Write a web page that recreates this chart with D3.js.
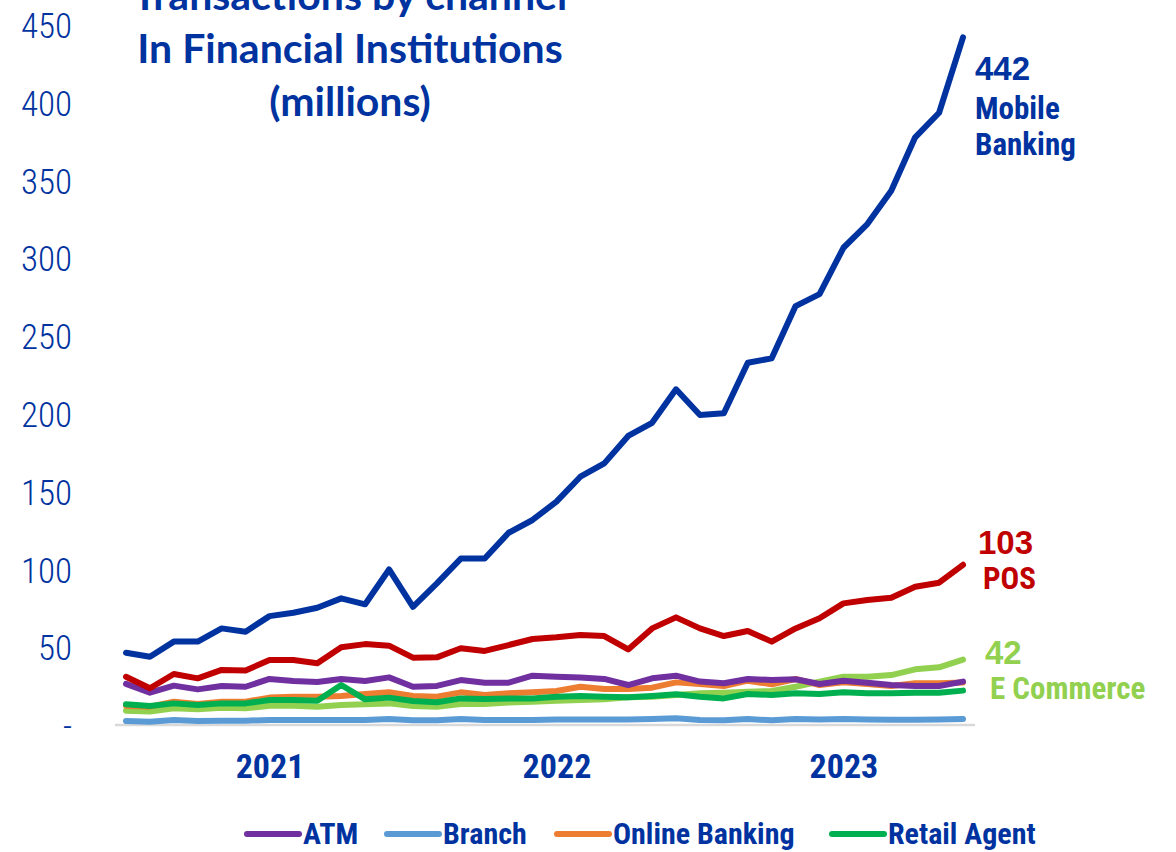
<!DOCTYPE html>
<html>
<head>
<meta charset="utf-8">
<script src="https://cdn.jsdelivr.net/npm/d3@7"></script>
<style>
  body { margin: 0; background: #fff; }
  svg { display: block; }
  .narrow { font-family: 'Liberation Sans Narrow', 'Arial Narrow', 'Roboto Condensed', sans-serif; font-stretch: condensed; }
</style>
</head>
<body>
<div id="container"></div>
<script>
// Data (millions of transactions, monthly Jan 2021 - Dec 2023)
const months = d3.range(36).map(i => {
  const y = 2021 + Math.floor(i / 12);
  const m = (i % 12) + 1;
  return `${y}-${String(m).padStart(2, '0')}`;
});

const mobileBanking = [46.5, 43.9, 53.6, 53.6, 62.1, 60, 70, 72.2, 75.4, 81.4, 77.6, 100,
  76, 91, 107, 107, 123.6, 131.8, 143.6, 159.6, 168.2, 185.8, 194.3, 215.8,
  199.3, 200.4, 232.9, 235.7, 269.3, 277, 306.8, 322, 343.5, 377.8, 393.6, 442];
const pos = [31, 23.6, 32.8, 30, 35.4, 35, 41.8, 41.8, 39.7, 50, 52, 51,
  43.3, 43.5, 49.3, 47.6, 51.4, 55.3, 56.4, 57.9, 57.2, 48.6, 62.1, 69.2,
  62.1, 57.2, 60.4, 53.6, 62.1, 68.6, 78.2, 80.4, 81.8, 88.9, 91.5, 103];
const atm = [26.4, 20.8, 25.3, 22.9, 25.1, 24.6, 29.6, 28.3, 27.6, 29.6, 28.3, 30.6,
  24.6, 25.1, 28.9, 27.2, 27.2, 31.7, 31, 30.6, 29.6, 25.7, 30, 31.7,
  27.9, 26.8, 29.6, 28.9, 29.4, 26.4, 28.5, 27.2, 25.7, 25.1, 25.1, 27.9];
const onlineBanking = [12.4, 11.8, 15, 13.5, 15, 15, 17.6, 18.2, 18.2, 18.6, 19.9, 21,
  18.6, 18.2, 21, 19.3, 20.4, 21, 21.9, 24.6, 23.1, 23.1, 24, 27.4,
  26.4, 25.1, 28.5, 26.2, 29.6, 25.7, 27.4, 26.4, 25.1, 26.8, 26.8, 27.4];
const retailAgent = [13.3, 12.2, 13.9, 12.9, 13.9, 13.9, 16.1, 16.1, 15.6, 25.7, 16.5, 17.6,
  15.4, 14.6, 17.1, 16.7, 17.1, 17.1, 18.2, 18.6, 18.2, 17.8, 18.6, 19.7,
  18.2, 17.1, 19.9, 19.3, 20.4, 19.9, 21, 20.4, 20.4, 20.8, 20.8, 22.1];
const eCommerce = [9.2, 8.6, 10.7, 10.1, 11.1, 10.7, 12.4, 12.4, 11.8, 12.9, 13.3, 13.9,
  12.2, 11.8, 13.5, 13.5, 14.4, 15, 15.6, 16.1, 16.5, 17.8, 18.2, 19.3,
  20.4, 20.8, 21.4, 21.9, 24.6, 27.9, 31, 31, 32.1, 35.8, 37.1, 42];
const branch = [2.6, 2.1, 3.2, 2.6, 2.8, 2.8, 3.2, 3.2, 3.2, 3.2, 3.2, 3.9,
  3, 3, 3.9, 3.2, 3.2, 3.2, 3.6, 3.6, 3.6, 3.6, 3.9, 4.3,
  3.2, 3, 3.9, 3, 3.9, 3.6, 3.9, 3.6, 3.4, 3.4, 3.6, 3.9];

const yTicks = [0, 50, 100, 150, 200, 250, 300, 350, 400, 450];
const yearTicks = ['2021-07', '2022-07', '2023-07'];
const titleLines = ['Transactions by channel', 'In Financial Institutions', '(millions)'];

// drawing order: back to front
const series = [
  { name: 'Branch', values: branch, color: '#5b9bd5' },
  { name: 'E Commerce', values: eCommerce, color: '#92d050' },
  { name: 'Online Banking', values: onlineBanking, color: '#ed7d31' },
  { name: 'Retail Agent', values: retailAgent, color: '#00b050' },
  { name: 'ATM', values: atm, color: '#7030a0' },
  { name: 'POS', values: pos, color: '#c00000' },
  { name: 'Mobile Banking', values: mobileBanking, color: '#0033a0' }
];
const legendNames = ['ATM', 'Branch', 'Online Banking', 'Retail Agent'];

const svgWidth = 1176;
const svgHeight = 852;
const navy = '#0033a0';

const svg = d3
  .select('#container')
  .append('svg')
  .attr('width', svgWidth)
  .attr('height', svgHeight);

const xScale = d3.scalePoint().domain(months).range([126, 963]);
const yScale = d3.scaleLinear().domain([0, 450]).range([725, 25]);

// Y-AXIS (labels only)
const yAxis = d3
  .axisLeft(yScale)
  .tickValues(yTicks)
  .tickSize(0)
  .tickPadding(0)
  .tickFormat(d => (d === 0 ? '-' : d));

svg
  .append('g')
  .attr('class', 'narrow')
  .attr('transform', 'translate(72,0)')
  .call(yAxis)
  .call(g => g.select('.domain').remove())
  .selectAll('text')
  .attr('fill', navy)
  .attr('font-size', 35)
  .attr('font-weight', 300)
  .attr('dy', '0.36em');

// baseline
svg
  .append('line')
  .attr('x1', 115)
  .attr('x2', 975)
  .attr('y1', yScale(0))
  .attr('y2', yScale(0))
  .attr('stroke', '#d9d9d9')
  .attr('stroke-width', 2.5);

// X-AXIS (year labels)
const xAxis = d3
  .axisBottom(xScale)
  .tickValues(yearTicks)
  .tickSize(0)
  .tickPadding(0)
  .tickFormat(d => d.substring(0, 4));

svg
  .append('g')
  .attr('class', 'narrow')
  .attr('transform', 'translate(0,754)')
  .call(xAxis)
  .call(g => g.select('.domain').remove())
  .selectAll('text')
  .attr('fill', navy)
  .attr('font-size', 34)
  .attr('font-weight', 'bold');

// Lines
const line = d3
  .line()
  .x((d, i) => xScale(months[i]))
  .y(d => yScale(d));

svg
  .selectAll('path.series')
  .data(series)
  .enter()
  .append('path')
  .attr('class', 'series')
  .attr('d', d => line(d.values))
  .attr('fill', 'none')
  .attr('stroke', d => d.color)
  .attr('stroke-width', 6)
  .attr('stroke-linejoin', 'round')
  .attr('stroke-linecap', 'round');

// Title (first line is cut off by the top edge, as in the original)
svg
  .append('text')
  .attr('x', 350)
  .attr('y', 10)
  .attr('text-anchor', 'middle')
  .attr('font-family', 'Lato, "Open Sans", sans-serif')
  .attr('font-weight', 'bold')
  .attr('font-size', 41)
  .attr('fill', navy)
  .selectAll('tspan')
  .data(titleLines)
  .enter()
  .append('tspan')
  .attr('x', 350)
  .attr('dy', (d, i) => (i === 0 ? 0 : 53))
  .text(d => d);

// End labels
const endLabels = [
  { value: '442', name: ['Mobile', 'Banking'], color: navy, x: 975, y: 80, nameX: 975, gap: 39, step: 36 },
  { value: '103', name: ['POS'], color: '#c00000', x: 978, y: 554, nameX: 983, gap: 35, step: 36 },
  { value: '42', name: ['E Commerce'], color: '#92d050', x: 985, y: 664, nameX: 990, gap: 35, step: 36 }
];

endLabels.forEach(l => {
  svg
    .append('text')
    .attr('x', l.x)
    .attr('y', l.y)
    .attr('font-family', 'Arial, "Liberation Sans", sans-serif')
    .attr('font-weight', 'bold')
    .attr('font-size', 33)
    .attr('fill', l.color)
    .text(l.value);
  l.name.forEach((n, i) => {
    svg
      .append('text')
      .attr('class', 'narrow')
      .attr('x', l.nameX)
      .attr('y', l.y + l.gap + i * l.step)
      .attr('font-weight', 'bold')
      .attr('font-size', 31)
      .attr('fill', l.color)
      .text(n);
  });
});

// Legend
const legendX = [245, 385, 555, 830];
const legend = svg
  .selectAll('g.legend')
  .data(legendNames.map(n => series.find(s => s.name === n)))
  .enter()
  .append('g')
  .attr('class', 'legend')
  .attr('transform', (d, i) => `translate(${legendX[i]},834)`);

legend
  .append('line')
  .attr('x1', 2)
  .attr('x2', 54)
  .attr('stroke', d => d.color)
  .attr('stroke-width', 6)
  .attr('stroke-linecap', 'round');

legend
  .append('text')
  .attr('class', 'narrow')
  .attr('x', 58)
  .attr('dy', '0.34em')
  .attr('font-size', 30)
  .attr('font-weight', 'bold')
  .attr('fill', navy)
  .text(d => d.name);
</script>
</body>
</html>
